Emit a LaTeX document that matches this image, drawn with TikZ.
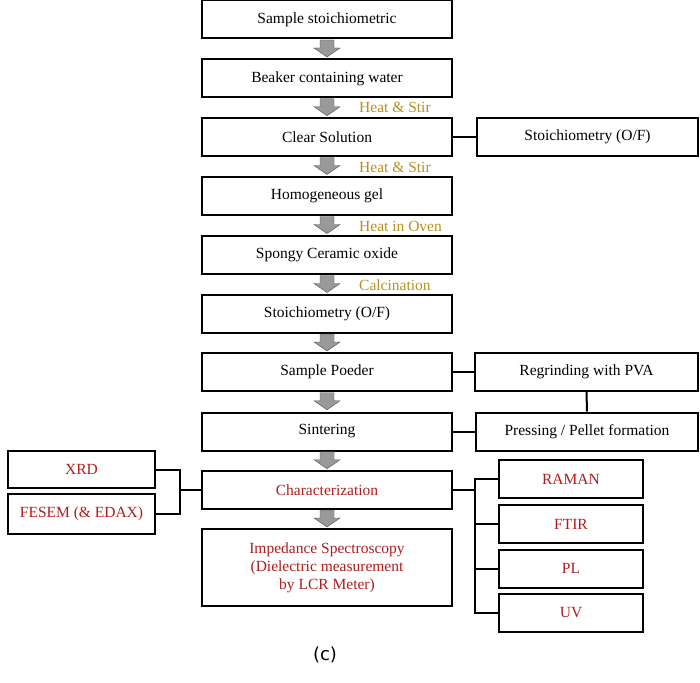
\documentclass[tikz,border=0pt]{standalone}
\usepackage{fontspec}
\setmainfont{Liberation Serif}
\newfontfamily\sansf{DejaVu Sans}
\definecolor{gold}{HTML}{B8901E}
\definecolor{dred}{HTML}{B01C1C}
\begin{document}
\begin{tikzpicture}[x=1pt,y=-1pt,
 bx/.style={draw,line width=2pt,minimum width=#1,minimum height=38pt,inner sep=0pt,font=\rmfamily\fontsize{15.5}{18}\selectfont,align=center},
 bx/.default=250pt,
 rd/.style={text=dred},
 ln/.style={line width=2pt},
 lb/.style={text=gold,anchor=west,font=\rmfamily\fontsize{15.5}{18}\selectfont,inner sep=0pt},
 ar/.style={fill=gray!80,draw=gray!60!black,line width=0.4pt}]
\useasboundingbox (0,0) rectangle (700,682);
\node[bx] (b1) at (327,19.5) {Sample stoichiometric};
\node[bx] (b2) at (327,78.5) {Beaker containing water};
\node[bx] (b3) at (327,137) {Clear Solution};
\node[bx] (b4) at (327,196) {Homogeneous gel};
\node[bx] (b5) at (327,255) {Spongy Ceramic oxide};
\node[bx] (b6) at (327,314) {Stoichiometry (O/F)};
\node[bx] (b7) at (327,372) {Sample Poeder};
\node[bx] (b8) at (327,431.5) {Sintering};
\node[bx,rd] (b9) at (327,490) {Characterization};
\node[bx,rd,minimum height=77pt] (b10) at (327,567.5) {Impedance Spectroscopy\\(Dielectric measurement\\by LCR Meter)};
\foreach \a/\b in {b1/b2,b2/b3,b3/b4,b4/b5,b5/b6,b6/b7,b7/b8,b8/b9,b9/b10}{
 \path (\a.south) -- (\b.north) coordinate[pos=0.5] (m);
 \draw[ar] ([shift={(-7,-9)}]m) -- ([shift={(7,-9)}]m) -- ([shift={(7,-1)}]m) -- ([shift={(13,-1)}]m) -- ([shift={(0,8)}]m) -- ([shift={(-13,-1)}]m) -- ([shift={(-7,-1)}]m) -- cycle;
}
\node[lb] (l1) at (359,107.5) {Heat \& Stir};
\node[lb] (l2) at (359,167) {Heat \& Stir};
\node[lb] (l3) at (359,226) {Heat in Oven};
\node[lb] (l4) at (359,285) {Calcination};
\node[bx=221pt] (r1) at (587.5,137) {Stoichiometry (O/F)};
\node[bx=223pt] (r2) at (586.5,372) {Regrinding with PVA};
\node[bx=222pt] (r3) at (587,431.5) {Pressing / Pellet formation};
\draw[ln] (b3.east) -- (r1.west);
\draw[ln] (b7.east) -- (r2.west);
\draw[ln] (r2.south) -- (r3.north);
\draw[ln] (b8.east) -- (r3.west);
\node[bx=144pt,rd] (c1) at (571,479) {RAMAN};
\node[bx=144pt,rd] (c2) at (571,524) {FTIR};
\node[bx=144pt,rd] (c3) at (571,568.5) {PL};
\node[bx=144pt,rd] (c4) at (571,613) {UV};
\coordinate (rb) at (475,490);
\draw[ln] (b9.east) -- (rb);
\draw[ln] (c1.west) -| (475,479) |- (c4.west);
\draw[ln] (c2.west) -- (475,524);
\draw[ln] (c3.west) -- (475,568.5);
\node[bx=147pt,minimum height=37pt,rd] (d1) at (81.5,469.5) {XRD};
\node[bx=147pt,minimum height=40pt,rd] (d2) at (81.5,514) {FESEM (\& EDAX)};
\draw[ln] (d1.east) -| (180,490) |- (d2.east);
\draw[ln] (180,490) -- (b9.west);
\node[font=\sansf\fontsize{18}{20}\selectfont] (cap) at (325,655) {(c)};
\end{tikzpicture}
\end{document}
